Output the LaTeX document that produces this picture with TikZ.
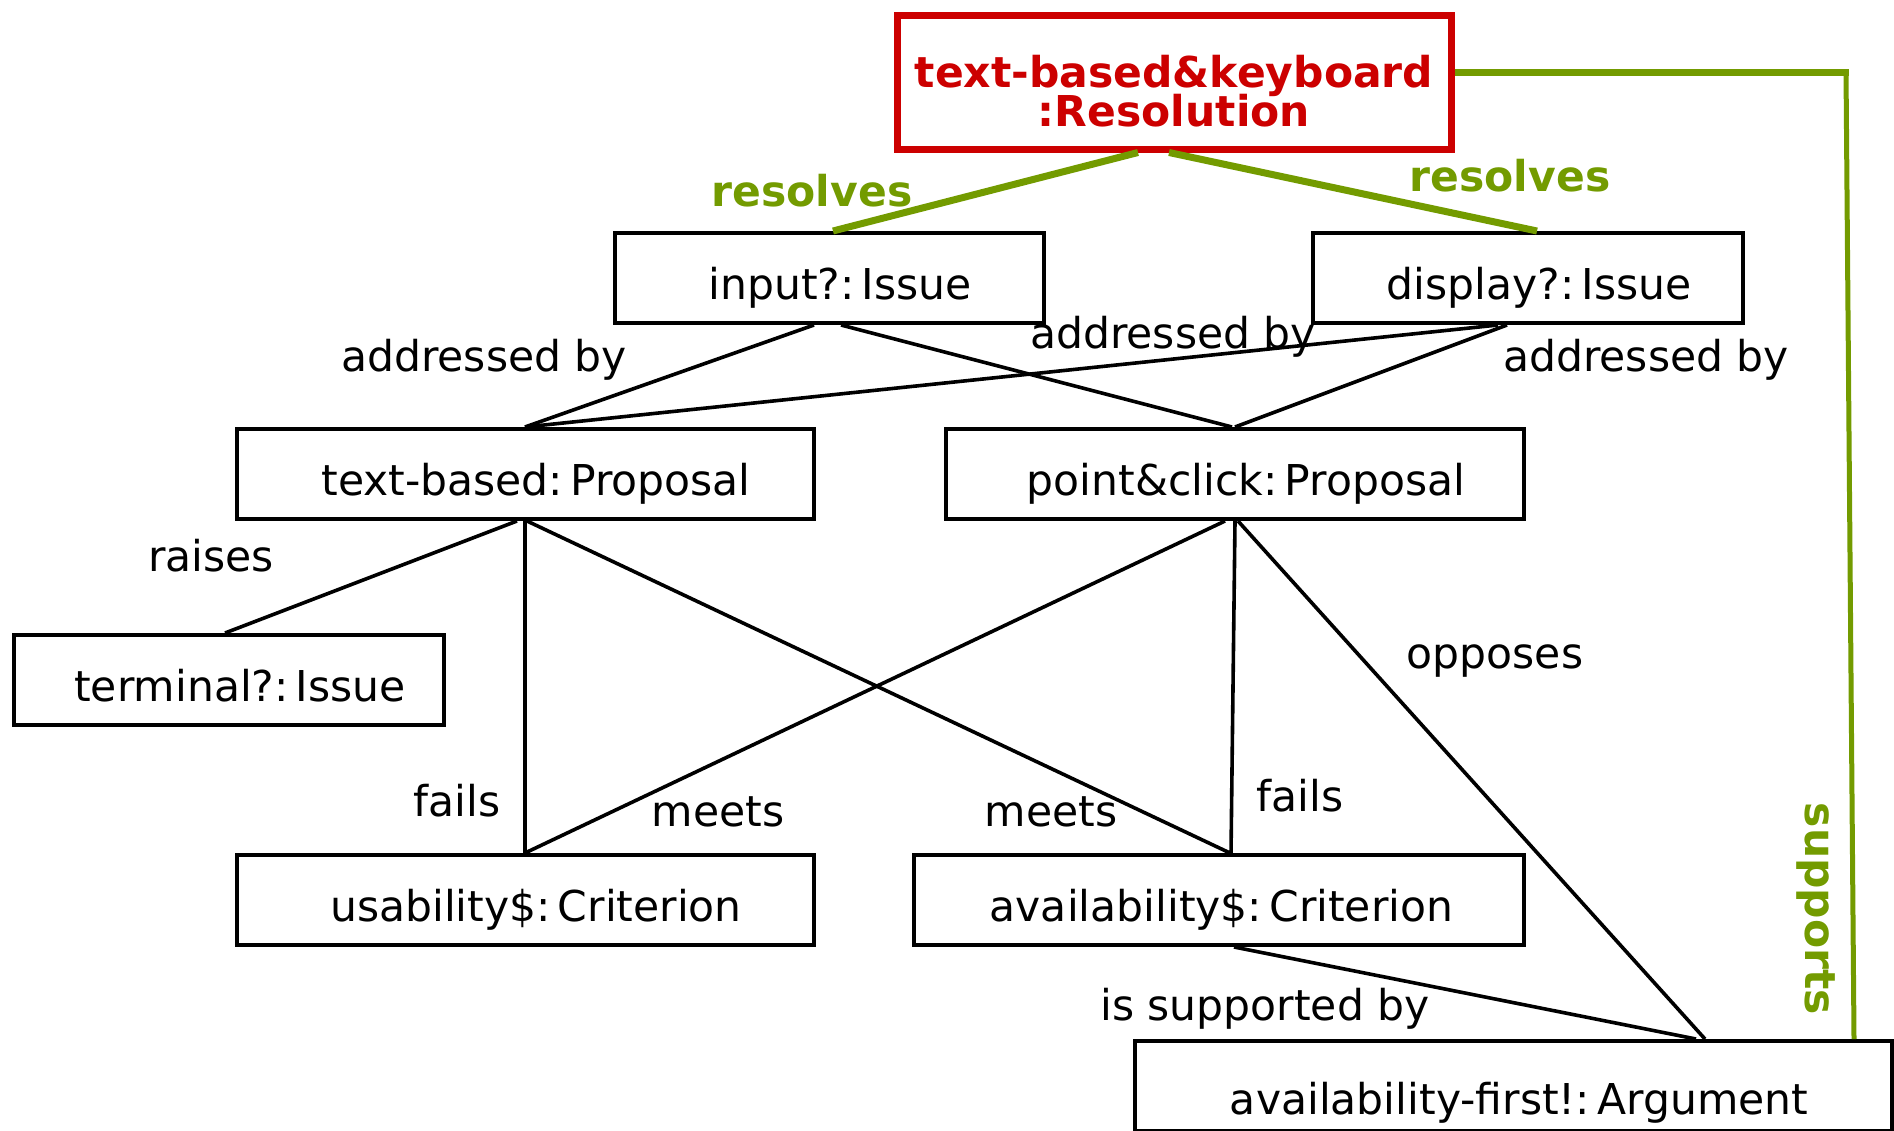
\documentclass[tikz,border=0pt]{standalone}
\usepackage{fontspec}
\setmainfont{DejaVu Sans}
\usepackage{xcolor}
\definecolor{resred}{RGB}{204,0,0}
\definecolor{resgreen}{RGB}{115,155,0}

\begin{document}
\begin{tikzpicture}[x=1pt, y=-1pt,
    box/.style={draw, line width=4pt, rectangle, inner sep=0pt, minimum height=90pt,
                text height=52pt, text depth=10pt,
                font=\fontsize{42.5}{48}\selectfont},
    boxpad/.style={execute at begin node=\hspace*{#1}},
    boxpad/.default=22pt,
    lbl/.style={inner sep=0pt, font=\fontsize{42.5}{48}\selectfont},
    glbl/.style={inner sep=0pt, text=resgreen, font=\fontsize{42.5}{48}\selectfont\bfseries},
    link/.style={line width=3.6pt},
    glink/.style={resgreen, line width=7pt}]
        % Page frame
        \clip (0,0) rectangle (1894,1130);

        % Resolution
        \node[draw=resred, line width=7pt, text=resred, align=center, inner sep=0pt,
              minimum width=554pt, minimum height=134pt, text height=89pt,
              font=\fontsize{42.5}{38}\selectfont\bfseries] (res) at (1174,82)
              {text-based\&keyboard\\[-3.6pt]:Resolution};

        % Issues and proposals
        \node[box, boxpad, minimum width=429pt] (input) at (829,278) {input?:\,Issue};
        \node[box, boxpad, minimum width=430pt] (display) at (1528,278) {display?:\,Issue};
        \node[box, boxpad, minimum width=577pt] (tbp) at (525,474) {text-based:\,Proposal};
        \node[box, boxpad, minimum width=578pt] (pcp) at (1235,474) {point\&click:\,Proposal};
        \node[box, boxpad, minimum width=430pt] (term) at (229,680) {terminal?:\,Issue};

        % Criteria and argument
        \node[box, boxpad, minimum width=577pt] (usab) at (525,900) {usability\$:\,Criterion};
        \node[box, boxpad=5pt, minimum width=610pt] (avail) at (1219,900) {availability\$:\,Criterion};
        \node[box, boxpad=12pt, minimum width=757pt, text height=66pt] (arg) at (1513,1086) {availability-first!:\,Argument};

        % Green links
        \draw[glink] ([xshift=-36pt]res.south) -- ([xshift=4pt]input.north);
        \draw[glink] ([xshift=-5pt]res.south) -- ([xshift=9pt]display.north);
        \coordinate (bend) at (1846,72);
        \draw[glink] ([yshift=10pt]res.east) -- ([xshift=2.5pt]bend);
        \draw[glink, line width=5pt] (bend) -- ([xshift=341pt]arg.north);

        % Black links
        \draw[link] ([xshift=-15pt]input.south) -- (tbp.north);
        \draw[link] ([xshift=12pt]input.south) -- ([xshift=-3pt]pcp.north);
        \draw[link] ([xshift=-30pt]display.south) -- (tbp.north);
        \draw[link] ([xshift=-21pt]display.south) -- (pcp.north);
        \draw[link] ([xshift=-8pt]tbp.south) -- ([xshift=-4pt]term.north);
        \draw[link] (tbp.south) -- (usab.north);
        \draw[link] ([xshift=2pt]tbp.south) -- ([xshift=11pt]avail.north);
        \draw[link] ([xshift=-10pt]pcp.south) -- (usab.north);
        \draw[link] (pcp.south) -- ([xshift=12pt]avail.north);
        \draw[link] ([xshift=3pt]pcp.south) -- ([xshift=192pt]arg.north);
        \draw[link] ([xshift=15pt]avail.south) -- ([xshift=183pt]arg.north);

        % Labels
        \node[glbl] (res1) at (812,191) {resolves};
        \node[glbl] (res2) at (1510,176) {resolves};
        \node[glbl, rotate=-90] (sup) at (1816,909) {supports};
        \node[lbl] (adr1) at (484,360) {addressed by};
        \node[lbl] (adr2) at (1173,337) {addressed by};
        \node[lbl] (adr3) at (1646,360) {addressed by};
        \node[lbl] (rai) at (211,556) {raises};
        \node[lbl] (fai1) at (457,801) {fails};
        \node[lbl] (mee1) at (718,812) {meets};
        \node[lbl] (mee2) at (1051,812) {meets};
        \node[lbl] (fai2) at (1300,796) {fails};
        \node[lbl] (opp) at (1495,661) {opposes};
        \node[lbl] (isb) at (1265,1009) {is supported by};
    \end{tikzpicture}
\end{document}
